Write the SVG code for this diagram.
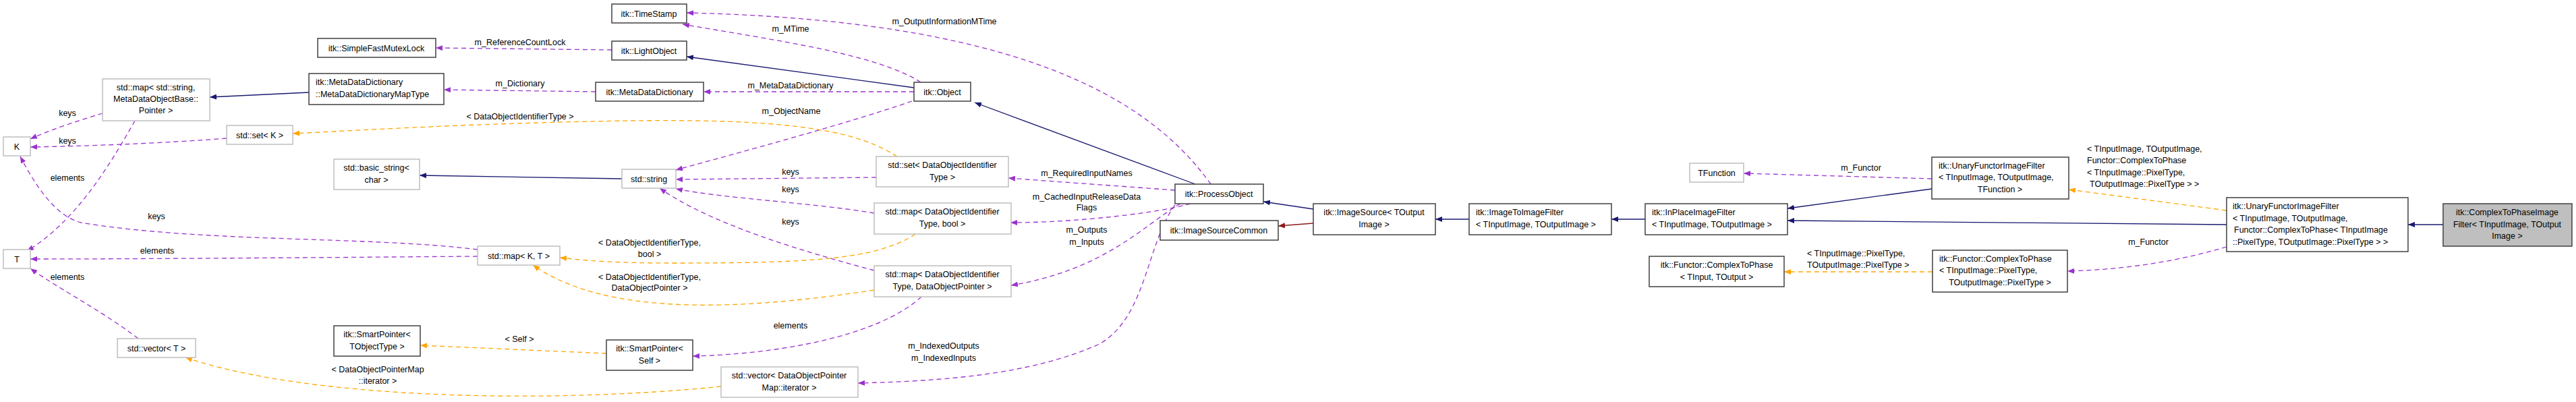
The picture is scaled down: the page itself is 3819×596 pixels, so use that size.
<svg xmlns="http://www.w3.org/2000/svg" width="3819" height="596" viewBox="0 0 3819 596">
<style>
text{font-family:"Liberation Sans",Arial,sans-serif;font-size:12.5px;fill:#000}
.c{text-anchor:middle}
.n{fill:#fff;stroke:#404040;stroke-width:1.5}
.g{fill:#fff;stroke:#bfbfbf;stroke-width:1.5}
.f{fill:#bfbfbf;stroke:#404040;stroke-width:1.5}
.inh{fill:none;stroke:#191970;stroke-width:1.3;marker-end:url(#mN)}
.red{fill:none;stroke:#8b1a1a;stroke-width:1.3;marker-end:url(#mR)}
.use{fill:none;stroke:#9a32cd;stroke-width:1.3;stroke-dasharray:7,5;marker-end:url(#mP)}
.tpl{fill:none;stroke:#ffa500;stroke-width:1.3;stroke-dasharray:7,5;marker-end:url(#mO)}
</style>
<defs>
<marker id="mN" markerWidth="10" markerHeight="8" refX="10" refY="4" orient="auto" markerUnits="userSpaceOnUse"><path d="M0,0L10,4L0,8z" fill="#191970"/></marker>
<marker id="mR" markerWidth="10" markerHeight="8" refX="10" refY="4" orient="auto" markerUnits="userSpaceOnUse"><path d="M0,0L10,4L0,8z" fill="#8b1a1a"/></marker>
<marker id="mP" markerWidth="10" markerHeight="8" refX="10" refY="4" orient="auto" markerUnits="userSpaceOnUse"><path d="M0,0L10,4L0,8z" fill="#9a32cd"/></marker>
<marker id="mO" markerWidth="10" markerHeight="8" refX="10" refY="4" orient="auto" markerUnits="userSpaceOnUse"><path d="M0,0L10,4L0,8z" fill="#ffa500"/></marker>
</defs>
<rect width="3819" height="596" fill="#fff"/>
<g id="connectors">
<path class="inh" d="M458,137L311,144"/>
<path class="inh" d="M922,265L622,260"/>
<path class="inh" d="M1355,130L1018,84"/>
<path class="inh" d="M1772,273L1445,152"/>
<path class="inh" d="M1947,310L1873,299"/>
<path class="inh" d="M2178,325L2128,325"/>
<path class="inh" d="M2439,325L2389,325"/>
<path class="inh" d="M2864,280L2650,309"/>
<path class="inh" d="M3301,333C3100,331 2850,329 2650,327"/>
<path class="inh" d="M3622,333L3570,333"/>
<path class="red" d="M1947,331L1895,335"/>
<path class="use" d="M907,74L646,71"/>
<path class="use" d="M1365,122C1300,80 1150,60 1012,36"/>
<path class="use" d="M1795,273C1700,140 1500,30 1018,19"/>
<path class="use" d="M883,136L658,133"/>
<path class="use" d="M1355,136L1043,136"/>
<path class="use" d="M1352,150C1250,185 1100,225 1002,252"/>
<path class="use" d="M1299,263L1002,266"/>
<path class="use" d="M1296,316C1200,300 1080,295 1002,280"/>
<path class="use" d="M1296,401C1180,370 1050,330 978,279"/>
<path class="use" d="M1742,282L1495,264"/>
<path class="use" d="M1765,302C1720,315 1600,330 1498,330"/>
<path class="use" d="M1750,302C1700,330 1640,400 1499,423"/>
<path class="use" d="M1742,304C1700,360 1700,470 1630,510C1530,555 1400,565 1272,568"/>
<path class="use" d="M1366,440C1300,500 1150,525 1027,528"/>
<path class="use" d="M152,168C120,178 80,190 45,206"/>
<path class="use" d="M336,205C250,212 120,217 45,218"/>
<path class="use" d="M200,179C160,250 110,330 40,372"/>
<path class="use" d="M708,370C550,350 300,360 120,330C80,320 50,270 30,232"/>
<path class="use" d="M708,380C450,382 200,384 45,384"/>
<path class="use" d="M205,502C150,460 90,430 45,398"/>
<path class="use" d="M2864,265L2585,257"/>
<path class="use" d="M3301,366C3220,390 3140,400 3065,402"/>
<path class="tpl" d="M1330,232C1250,180 1100,173 800,182C650,186 500,195 434,198"/>
<path class="tpl" d="M1357,347C1300,385 1200,390 1000,390C900,390 870,386 830,382"/>
<path class="tpl" d="M1296,430C1100,460 900,470 790,393"/>
<path class="tpl" d="M899,524L623,512"/>
<path class="tpl" d="M1069,573C800,600 450,590 275,530"/>
<path class="tpl" d="M3301,312L3067,281"/>
<path class="tpl" d="M2865,403L2645,403"/>
</g>
<g id="labels">
<text class="c" x="232" y="325">keys</text>
<text class="c" x="100" y="172">keys</text>
<text class="c" x="100" y="213">keys</text>
<text class="c" x="100" y="268">elements</text>
<text class="c" x="233" y="376">elements</text>
<text class="c" x="100" y="415">elements</text>
<text class="c" x="560" y="552">&lt; DataObjectPointerMap</text>
<text class="c" x="560" y="569">::iterator &gt;</text>
<text class="c" x="771" y="67">m_ReferenceCountLock</text>
<text class="c" x="771" y="128">m_Dictionary</text>
<text class="c" x="771" y="177">&lt; DataObjectIdentifierType &gt;</text>
<text class="c" x="1172" y="47">m_MTime</text>
<text class="c" x="1400" y="36">m_OutputInformationMTime</text>
<text class="c" x="1172" y="131">m_MetaDataDictionary</text>
<text class="c" x="1173" y="169">m_ObjectName</text>
<text class="c" x="1172" y="259">keys</text>
<text class="c" x="1172" y="285">keys</text>
<text class="c" x="1172" y="333">keys</text>
<text class="c" x="963" y="364">&lt; DataObjectIdentifierType,</text>
<text class="c" x="963" y="381">bool &gt;</text>
<text class="c" x="963" y="415">&lt; DataObjectIdentifierType,</text>
<text class="c" x="963" y="431">DataObjectPointer &gt;</text>
<text class="c" x="1172" y="487">elements</text>
<text class="c" x="770" y="507">&lt; Self &gt;</text>
<text class="c" x="1611" y="261">m_RequiredInputNames</text>
<text class="c" x="1611" y="296">m_CachedInputReleaseData</text>
<text class="c" x="1611" y="312">Flags</text>
<text class="c" x="1611" y="345">m_Outputs</text>
<text class="c" x="1611" y="363">m_Inputs</text>
<text class="c" x="1399" y="517">m_IndexedOutputs</text>
<text class="c" x="1399" y="535">m_IndexedInputs</text>
<text class="c" x="2759" y="253">m_Functor</text>
<text x="2679" y="380">&lt; TInputImage::PixelType,</text>
<text x="2679" y="397">TOutputImage::PixelType &gt;</text>
<text x="3094" y="225">&lt; TInputImage, TOutputImage,</text>
<text x="3094" y="242">Functor::ComplexToPhase</text>
<text x="3094" y="260">&lt; TInputImage::PixelType,</text>
<text x="3098" y="277">TOutputImage::PixelType &gt; &gt;</text>
<text class="c" x="3185" y="363">m_Functor</text>
</g>
<g id="K"><rect class="g" x="5" y="203" width="40" height="28"/><text class="c" x="25" y="222">K</text></g>
<g id="T"><rect class="g" x="5" y="370" width="40" height="28"/><text class="c" x="25" y="389">T</text></g>
<g id="mapStr"><rect class="g" x="152" y="117" width="159" height="62"/><text class="c" x="231" y="134">std::map&lt; std::string,</text><text class="c" x="231" y="151">MetaDataObjectBase::</text><text class="c" x="231" y="168">Pointer &gt;</text></g>
<g id="setK"><rect class="g" x="336" y="186" width="98" height="28"/><text class="c" x="385" y="205">std::set&lt; K &gt;</text></g>
<g id="mapKT"><rect class="g" x="708" y="365" width="122" height="28"/><text class="c" x="769" y="384">std::map&lt; K, T &gt;</text></g>
<g id="vecT"><rect class="g" x="174" y="502" width="116" height="28"/><text class="c" x="232" y="521">std::vector&lt; T &gt;</text></g>
<g id="sfml"><rect class="n" x="471" y="57" width="175" height="28"/><text class="c" x="558" y="76">itk::SimpleFastMutexLock</text></g>
<g id="mddmt"><rect class="n" x="458" y="109" width="200" height="46"/><text x="468" y="126">itk::MetaDataDictionary</text><text x="468" y="144">::MetaDataDictionaryMapType</text></g>
<g id="bstr"><rect class="g" x="495" y="236" width="127" height="45"/><text class="c" x="558" y="253">std::basic_string&lt;</text><text class="c" x="558" y="271">char &gt;</text></g>
<g id="spT"><rect class="n" x="495" y="483" width="128" height="45"/><text class="c" x="559" y="500">itk::SmartPointer&lt;</text><text class="c" x="559" y="518">TObjectType &gt;</text></g>
<g id="ts"><rect class="n" x="907" y="6" width="111" height="28"/><text class="c" x="962" y="25">itk::TimeStamp</text></g>
<g id="lo"><rect class="n" x="907" y="61" width="111" height="28"/><text class="c" x="962" y="80">itk::LightObject</text></g>
<g id="mdd"><rect class="n" x="883" y="122" width="160" height="28"/><text class="c" x="963" y="141">itk::MetaDataDictionary</text></g>
<g id="str"><rect class="g" x="922" y="251" width="80" height="28"/><text class="c" x="962" y="270">std::string</text></g>
<g id="spS"><rect class="n" x="899" y="504" width="128" height="45"/><text class="c" x="963" y="521">itk::SmartPointer&lt;</text><text class="c" x="963" y="539">Self &gt;</text></g>
<g id="vecIt"><rect class="g" x="1069" y="544" width="203" height="45"/><text class="c" x="1170" y="561">std::vector&lt; DataObjectPointer</text><text class="c" x="1170" y="579">Map::iterator &gt;</text></g>
<g id="obj"><rect class="n" x="1355" y="122" width="84" height="28"/><text class="c" x="1397" y="141">itk::Object</text></g>
<g id="setD"><rect class="g" x="1299" y="232" width="196" height="45"/><text class="c" x="1397" y="249">std::set&lt; DataObjectIdentifier</text><text class="c" x="1397" y="267">Type &gt;</text></g>
<g id="mapB"><rect class="g" x="1296" y="301" width="203" height="46"/><text class="c" x="1397" y="318">std::map&lt; DataObjectIdentifier</text><text class="c" x="1397" y="336">Type, bool &gt;</text></g>
<g id="mapP"><rect class="g" x="1296" y="394" width="203" height="46"/><text class="c" x="1397" y="411">std::map&lt; DataObjectIdentifier</text><text class="c" x="1397" y="429">Type, DataObjectPointer &gt;</text></g>
<g id="po"><rect class="n" x="1742" y="273" width="131" height="29"/><text class="c" x="1807" y="292">itk::ProcessObject</text></g>
<g id="isc"><rect class="n" x="1720" y="327" width="175" height="29"/><text class="c" x="1807" y="346">itk::ImageSourceCommon</text></g>
<g id="is"><rect class="n" x="1947" y="302" width="181" height="46"/><text class="c" x="2037" y="319">itk::ImageSource&lt; TOutput</text><text class="c" x="2037" y="337">Image &gt;</text></g>
<g id="itif"><rect class="n" x="2178" y="302" width="211" height="46"/><text x="2188" y="319">itk::ImageToImageFilter</text><text x="2188" y="337">&lt; TInputImage, TOutputImage &gt;</text></g>
<g id="ipif"><rect class="n" x="2439" y="302" width="211" height="46"/><text x="2449" y="319">itk::InPlaceImageFilter</text><text x="2449" y="337">&lt; TInputImage, TOutputImage &gt;</text></g>
<g id="tfn"><rect class="g" x="2505" y="242" width="80" height="28"/><text class="c" x="2545" y="261">TFunction</text></g>
<g id="fcp"><rect class="n" x="2445" y="380" width="200" height="45"/><text class="c" x="2545" y="397">itk::Functor::ComplexToPhase</text><text class="c" x="2545" y="415">&lt; TInput, TOutput &gt;</text></g>
<g id="uf"><rect class="n" x="2864" y="233" width="203" height="62"/><text x="2874" y="250">itk::UnaryFunctorImageFilter</text><text x="2874" y="267">&lt; TInputImage, TOutputImage,</text><text class="c" x="2965" y="285">TFunction &gt;</text></g>
<g id="fcp2"><rect class="n" x="2865" y="371" width="200" height="62"/><text x="2875" y="388">itk::Functor::ComplexToPhase</text><text x="2875" y="405">&lt; TInputImage::PixelType,</text><text class="c" x="2965" y="423">TOutputImage::PixelType &gt;</text></g>
<g id="bu"><rect class="n" x="3301" y="293" width="269" height="80"/><text x="3310" y="310">itk::UnaryFunctorImageFilter</text><text x="3310" y="328">&lt; TInputImage, TOutputImage,</text><text x="3312" y="345">Functor::ComplexToPhase&lt; TInputImage</text><text x="3310" y="363">::PixelType, TOutputImage::PixelType &gt; &gt;</text></g>
<g id="final"><rect class="f" x="3622" y="302" width="191" height="63"/><text class="c" x="3717" y="319">itk::ComplexToPhaseImage</text><text class="c" x="3717" y="337">Filter&lt; TInputImage, TOutput</text><text class="c" x="3717" y="354">Image &gt;</text></g>
</svg>
